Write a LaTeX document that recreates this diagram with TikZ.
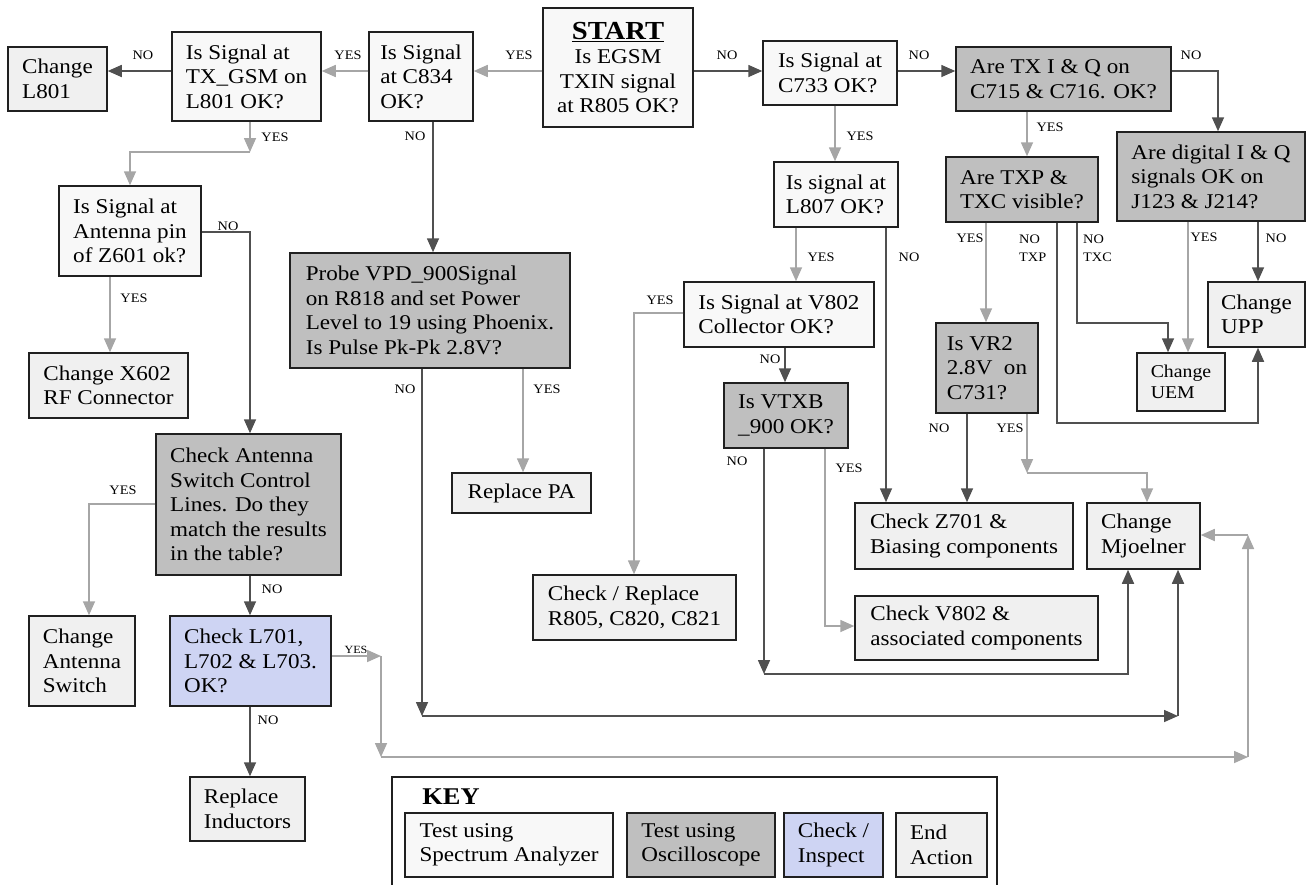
\documentclass[tikz,border=0pt]{standalone}
\usepackage{fontspec}
\setmainfont{Liberation Serif}[FakeStretch=1.1]
\usetikzlibrary{arrows.meta}

\definecolor{specfill}{HTML}{F8F8F8}
\definecolor{scopefill}{HTML}{BFBFBF}
\definecolor{endfill}{HTML}{F0F0F0}
\definecolor{inspectfill}{RGB}{206,212,243}
\definecolor{darkline}{HTML}{505050}
\definecolor{lightline}{HTML}{A6A6A6}
\definecolor{boxline}{HTML}{202020}

\newcommand{\boxtext}{\fontsize{21}{24.5}\selectfont}
\newcommand{\smalltext}{\fontsize{13}{18}\selectfont}

\begin{document}
\begin{tikzpicture}[x=1pt, y=-1pt,
    box/.style 2 args={draw=boxline, line width=1.5pt, align=left, font=\boxtext,
        inner sep=0pt, minimum width=#1pt, minimum height=#2pt},
    specbox/.style 2 args={box={#1}{#2}, fill=specfill},
    scopebox/.style 2 args={box={#1}{#2}, fill=scopefill},
    inspectbox/.style 2 args={box={#1}{#2}, fill=inspectfill},
    endbox/.style 2 args={box={#1}{#2}, fill=endfill},
    link/.style={line width=1.6pt, -{Triangle[length=14pt,width=12pt]}},
    yeslink/.style={link, draw=lightline},
    nolink/.style={link, draw=darkline},
    lbl/.style={font=\smalltext, inner sep=0pt, align=left}
  ]
  \useasboundingbox (0,0) rectangle (1306,884);
  \fill[white] (0,0) rectangle (1306,884);

  % top row
  \node[specbox={150}{119}, align=center] (start) at (618,67.5)
    {{\fontsize{26}{28}\selectfont\bfseries\underline{START}}\\Is EGSM\\TXIN signal\\at R805 OK?};
  \node[specbox={104}{89}] (ceight) at (421,76.5) {Is Signal\\at C834\\OK?};
  \node[specbox={149}{89}] (txgsm) at (246.5,76.5) {Is Signal at\\TX\_GSM on\\L801 OK?};
  \node[endbox={99}{64}] (chleight) at (57.5,79) {Change\\L801};
  \node[specbox={134}{64}] (cseven) at (830,73) {Is Signal at\\C733 OK?};
  \node[scopebox={215}{64}] (txiq) at (1063.5,79) {Are TX I \& Q on\\C715 \& C716. OK?};
  \node[scopebox={188}{89}] (digital) at (1211,176.5) {Are digital I \& Q\\signals OK on\\J123 \& J214?};
  \node[scopebox={152}{65}] (txp) at (1022,189.5) {Are TXP \&\\TXC visible?};
  \node[specbox={124}{65}] (leight) at (836,194.5) {Is signal at\\L807 OK?};

  % left column
  \node[specbox={142}{90}] (antenna) at (130,231) {Is Signal at\\Antenna pin\\of Z601 ok?};
  \node[endbox={159}{65}] (xsix) at (108.5,385.5) {Change X602\\RF Connector};
  \node[scopebox={185}{141}] (chkant) at (248.5,504.5)
    {Check Antenna\\Switch Control\\Lines. Do they\\match the results\\in the table?};
  \node[endbox={106}{90}] (antsw) at (82,661) {Change\\Antenna\\Switch};
  \node[inspectbox={161}{90}] (coilchk) at (250.5,661) {Check L701,\\L702 \& L703.\\OK?};
  \node[endbox={115}{64}] (replind) at (247.5,809) {Replace\\Inductors};

  % middle
  \node[scopebox={280}{115}] (probe) at (430,310.5)
    {Probe VPD\_900Signal\\on R818 and set Power\\Level to 19 using Phoenix.\\Is Pulse Pk-Pk 2.8V?};
  \node[endbox={139}{40}] (replpa) at (521.5,493) {Replace PA};
  \node[specbox={190}{65}] (veight) at (779,314.5) {Is Signal at V802\\Collector OK?};
  \node[scopebox={124}{65}] (vtxb) at (786,415.5) {Is VTXB\\\_900 OK?};
  \node[endbox={203}{65}] (chkrep) at (634.5,607.5) {Check / Replace\\R805, C820, C821};

  % right
  \node[scopebox={102}{90}] (vrtwo) at (987,368) {Is VR2\\2.8V \ on\\C731?};
  \node[endbox={97}{65}] (upp) at (1256.5,314.5) {Change\\UPP};
  \node[endbox={88}{58}, font=\fontsize{18}{21.5}\selectfont] (uem) at (1181,382) {Change\\UEM};
  \node[endbox={218}{66}] (zseven) at (964,536) {Check Z701 \&\\Biasing components};
  \node[endbox={113}{66}] (mjoel) at (1143.5,536) {Change\\Mjoelner};
  \node[endbox={243}{64}] (veightchk) at (976.5,628) {Check V802 \&\\associated components};

  % key
  \draw[draw=boxline, line width=1.5pt] (392,777) rectangle (997,900);
  \node[font=\fontsize{24}{24}\selectfont\bfseries, inner sep=0pt] (keytitle) at (451,797) {KEY};
  \node[specbox={208}{64}] (keyspec) at (509,845) {Test using\\Spectrum Analyzer};
  \node[scopebox={148}{64}] (keyscope) at (701,845) {Test using\\Oscilloscope};
  \node[inspectbox={99}{64}] (keyinspect) at (833.5,845) {Check /\\Inspect};
  \node[endbox={91}{64}] (keyend) at (941.5,845) {End\\Action};

  % top row links
  \draw[yeslink] (start.west |- 0,71) -- (ceight.east |- 0,71);
  \draw[nolink] (start.east |- 0,71) -- (cseven.west |- 0,71);
  \draw[yeslink] (ceight.west |- 0,71) -- (txgsm.east |- 0,71);
  \draw[nolink] (txgsm.west |- 0,71) -- (chleight.east |- 0,71);
  \draw[nolink] (cseven.east |- 0,71) -- (txiq.west |- 0,71);
  \draw[nolink] (txiq.east |- 0,71) -| (1218,0 |- digital.north);

  % left branch
  \coordinate (gsmbend) at (250,152);
  \draw[yeslink] (txgsm.south -| gsmbend) -- (gsmbend);
  \draw[yeslink] (gsmbend) -| (130,0 |- antenna.north);
  \draw[nolink] (antenna.east |- 0,232) -| (250,0 |- chkant.north);
  \draw[yeslink] (110,0 |- antenna.south) -- (110,0 |- xsix.north);
  \draw[yeslink] (chkant.west |- 0,504) -| (89,0 |- antsw.north);
  \draw[nolink] (250,0 |- chkant.south) -- (250,0 |- coilchk.north);
  \draw[nolink] (250,0 |- coilchk.south) -- (250,0 |- replind.north);

  % L701 yes, round to Mjoelner
  \coordinate (coilA) at (381,656);
  \coordinate (coilB) at (381,757);
  \coordinate (coilC) at (1248,757);
  \coordinate (coilD) at (1248,535);
  \draw[yeslink] (coilchk.east |- coilA) -- (coilA);
  \draw[yeslink] (coilA) -- (coilB);
  \draw[yeslink] (coilB) -- (coilC);
  \draw[yeslink] (coilC) -- (coilD);
  \draw[yeslink] (coilD) -- (mjoel.east |- coilD);

  % probe branch
  \draw[nolink] (433,0 |- ceight.south) -- (433,0 |- probe.north);
  \draw[yeslink] (523,0 |- probe.south) -- (523,0 |- replpa.north);
  \coordinate (probeA) at (422,716);
  \coordinate (probeB) at (1178,716);
  \draw[nolink] (probe.south -| probeA) -- (probeA);
  \draw[nolink] (probeA) -- (probeB);
  \draw[nolink] (probeB) -- (mjoel.south -| probeB);

  % middle column
  \draw[yeslink] (835,0 |- cseven.south) -- (835,0 |- leight.north);
  \draw[yeslink] (796,0 |- leight.south) -- (796,0 |- veight.north);
  \draw[nolink] (886,0 |- leight.south) -- (886,0 |- zseven.north);
  \draw[yeslink] (veight.west |- 0,313) -| (634,0 |- chkrep.north);
  \draw[nolink] (785,0 |- veight.south) -- (785,0 |- vtxb.north);
  \coordinate (vtxbA) at (764,674);
  \draw[nolink] (vtxb.south -| vtxbA) -- (vtxbA);
  \draw[nolink] (vtxbA) -| (1128,0 |- mjoel.south);
  \draw[yeslink] (825,0 |- vtxb.south) |- (veightchk.west |- 0,626);

  % right column
  \draw[yeslink] (1027,0 |- txiq.south) -- (1027,0 |- txp.north);
  \draw[yeslink] (986,0 |- txp.south) -- (986,0 |- vrtwo.north);
  \draw[nolink] (1057,0 |- txp.south) |- (1258,423) -- (1258,0 |- upp.south);
  \draw[nolink] (1077,0 |- txp.south) |- (1168,323) -- (1168,0 |- uem.north);
  \draw[yeslink] (1188,0 |- digital.south) -- (1188,0 |- uem.north);
  \draw[nolink] (1258,0 |- digital.south) -- (1258,0 |- upp.north);
  \draw[nolink] (967,0 |- vrtwo.south) -- (967,0 |- zseven.north);
  \coordinate (vrA) at (1027,473);
  \draw[yeslink] (vrtwo.south -| vrA) -- (vrA);
  \draw[yeslink] (vrA) -| (1147,0 |- mjoel.north);

  % labels
  \node[lbl] (nA) at (143,55) {NO};
  \node[lbl] (yA) at (348,55) {YES};
  \node[lbl] (yB) at (519,55) {YES};
  \node[lbl] (nB) at (727,55) {NO};
  \node[lbl] (nC) at (919,55) {NO};
  \node[lbl] (nD) at (1191,55) {NO};
  \node[lbl] (yC) at (275,137) {YES};
  \node[lbl] (nE) at (415,136) {NO};
  \node[lbl] (yD) at (860,136) {YES};
  \node[lbl] (yE) at (1050,127) {YES};
  \node[lbl] (nF) at (228,226) {NO};
  \node[lbl] (yF) at (970,238) {YES};
  \node[lbl, anchor=west] (nTXP) at (1019,248) {NO\\TXP};
  \node[lbl, anchor=west] (nTXC) at (1083,248) {NO\\TXC};
  \node[lbl] (yG) at (1204,237) {YES};
  \node[lbl] (nG) at (1276,238) {NO};
  \node[lbl] (nH) at (909,257) {NO};
  \node[lbl] (yH) at (821,257) {YES};
  \node[lbl] (yI) at (134,298) {YES};
  \node[lbl] (yJ) at (660,300) {YES};
  \node[lbl] (nI) at (770,359) {NO};
  \node[lbl] (nJ) at (405,389) {NO};
  \node[lbl] (yK) at (547,389) {YES};
  \node[lbl] (nK) at (939,428) {NO};
  \node[lbl] (yL) at (1010,428) {YES};
  \node[lbl] (nL) at (737,461) {NO};
  \node[lbl] (yM) at (849,468) {YES};
  \node[lbl] (yN) at (123,490) {YES};
  \node[lbl] (nM) at (272,589) {NO};
  \node[lbl, font=\fontsize{11}{12}\selectfont] (yO) at (356,650) {YES};
  \node[lbl] (nN) at (268,720) {NO};
\end{tikzpicture}
\end{document}
